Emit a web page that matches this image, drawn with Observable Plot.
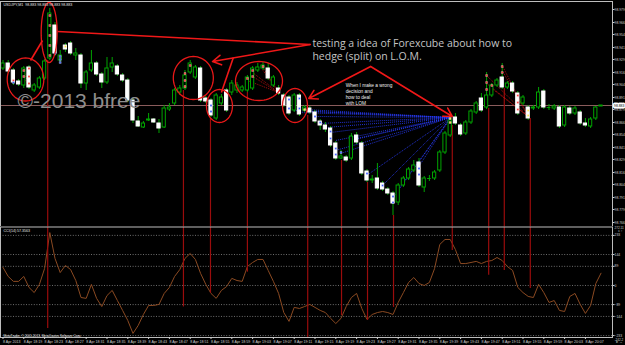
<!DOCTYPE html>
<html><head><meta charset="utf-8">
<script src="https://cdn.jsdelivr.net/npm/d3@7"></script>
<script src="https://cdn.jsdelivr.net/npm/@observablehq/plot@0.6"></script>
<style>
html,body{margin:0;padding:0;background:#000;}
#wrap{position:relative;width:625px;height:345px;background:#000;overflow:hidden;}
#wrap svg{position:absolute;left:0;}
</style></head><body><div id="wrap"></div>
<script>
// ---------- data ----------
const open = [98.920,98.925,98.918,98.907,98.903,98.921,98.898,98.901,98.910,98.930,
98.963,98.928,98.943,98.945,98.933,98.933,98.905,98.918,98.925,98.914,
98.906,98.921,98.922,98.913,98.908,98.888,98.867,98.861,98.868,98.869,
98.865,98.861,98.879,98.885,98.896,98.900,98.916,98.911,98.920,98.890,
98.888,98.870,98.885,98.898,98.896,98.898,98.898,98.898,98.900,98.918,
98.920,98.920,98.903,98.900,98.893,98.891,98.878,98.893,98.878,98.880,
98.876,98.867,98.863,98.860,98.845,98.830,98.831,98.830,98.853,98.845,
98.817,98.808,98.810,98.805,98.799,98.795,98.786,98.803,98.810,98.818,
98.826,98.801,98.810,98.810,98.818,98.836,98.853,98.871,98.863,98.855,
98.866,98.876,98.890,98.881,98.893,98.903,98.911,98.901,98.905,98.895,
98.885,98.881,98.880,98.881,98.897,98.881,98.880,98.881,98.863,98.880,
98.875,98.876,98.865,98.862,98.870,98.882];
const high = [98.928,98.928,98.920,98.909,98.922,98.923,98.905,98.912,98.929,98.980,
98.966,98.938,98.945,98.947,98.940,98.935,98.918,98.938,98.927,98.916,
98.931,98.931,98.924,98.915,98.910,98.890,98.872,98.867,98.875,98.870,
98.869,98.883,98.885,98.900,98.903,98.918,98.928,98.923,98.922,98.892,
98.890,98.895,98.894,98.900,98.908,98.906,98.903,98.913,98.922,98.925,
98.926,98.925,98.913,98.903,98.895,98.893,98.895,98.895,98.883,98.882,
98.878,98.869,98.866,98.862,98.847,98.838,98.833,98.855,98.856,98.847,
98.819,98.813,98.825,98.807,98.801,98.797,98.805,98.812,98.821,98.828,
98.830,98.812,98.813,98.818,98.838,98.857,98.871,98.875,98.865,98.868,
98.879,98.887,98.895,98.916,98.905,98.910,98.925,98.907,98.907,98.897,
98.893,98.883,98.883,98.901,98.899,98.884,98.884,98.883,98.883,98.882,
98.882,98.878,98.870,98.871,98.882,98.883];
const low = [98.918,98.915,98.903,98.902,98.900,98.899,98.896,98.899,98.908,98.928,
98.932,98.925,98.936,98.933,98.928,98.900,98.898,98.916,98.912,98.900,
98.904,98.916,98.912,98.906,98.886,98.865,98.861,98.860,98.867,98.865,
98.855,98.860,98.877,98.883,98.893,98.898,98.914,98.909,98.886,98.885,
98.871,98.868,98.883,98.876,98.893,98.895,98.896,98.896,98.898,98.916,
98.918,98.908,98.901,98.893,98.881,98.873,98.876,98.872,98.876,98.874,
98.865,98.858,98.856,98.841,98.828,98.829,98.826,98.828,98.844,98.813,
98.806,98.805,98.798,98.797,98.793,98.773,98.783,98.801,98.808,98.816,
98.801,98.796,98.807,98.808,98.816,98.834,98.851,98.863,98.852,98.853,
98.864,98.874,98.876,98.879,98.891,98.901,98.899,98.899,98.895,98.873,
98.883,98.868,98.878,98.879,98.879,98.878,98.878,98.860,98.861,98.873,
98.873,98.863,98.861,98.860,98.868,98.882];
const close = [98.925,98.917,98.906,98.904,98.920,98.901,98.903,98.910,98.927,98.975,
98.935,98.933,98.939,98.935,98.935,98.905,98.916,98.925,98.914,98.906,
98.920,98.925,98.914,98.908,98.888,98.868,98.862,98.865,98.869,98.866,
98.860,98.880,98.881,98.898,98.900,98.913,98.925,98.921,98.888,98.887,
98.873,98.893,98.891,98.878,98.905,98.903,98.901,98.911,98.920,98.921,
98.923,98.910,98.911,98.895,98.883,98.875,98.893,98.874,98.881,98.876,
98.867,98.863,98.859,98.843,98.830,98.832,98.828,98.852,98.846,98.815,
98.808,98.809,98.800,98.799,98.795,98.785,98.803,98.810,98.819,98.823,
98.803,98.810,98.810,98.816,98.836,98.855,98.868,98.865,98.854,98.866,
98.877,98.885,98.878,98.893,98.903,98.908,98.901,98.905,98.897,98.875,
98.891,98.870,98.881,98.896,98.881,98.881,98.882,98.862,98.881,98.875,
98.880,98.865,98.863,98.869,98.881,98.883];
const cci = [84,42,19,19,42,-9,-33,5,79,246,
126,60,93,74,23,-56,-60,5,-60,-98,
-47,-23,-70,-116,-163,-223,-186,-135,-93,-93,
-88,-37,-9,42,74,126,149,121,56,5,
-37,-60,-23,-5,33,23,19,88,107,121,
121,70,19,-37,-126,-167,-102,-107,-98,-88,
-102,-116,-126,-153,-177,-153,-98,-56,-37,-107,
-158,-135,-126,-121,-126,-135,-79,-33,14,37,
9,0,14,79,191,214,214,167,102,102,
107,112,102,112,116,130,116,88,70,-9,
-33,-51,-56,5,-33,-79,-70,-116,-121,-51,
-37,-88,-130,-93,9,57];
const currentPrice = 98.883;
const priceTicks = [98.979,98.966,98.954,98.941,98.929,98.916,98.904,98.891,98.879,98.866,98.854,98.841,98.829,98.816,98.804,98.791,98.779,98.766];
const timeTicks = [0,4,8,12,16,20,24,28,32,36,40,44,48,52,56,60,64,68,72,76,80,84,88,92,96,100,104,108,112];
const timeLabels = ["8 Apr 2013","8 Apr 18:19","8 Apr 18:23","8 Apr 18:27","8 Apr 18:31","8 Apr 18:35","8 Apr 18:39","8 Apr 18:43","8 Apr 18:47","8 Apr 18:51","8 Apr 18:55","8 Apr 18:59","8 Apr 19:03","8 Apr 19:07","8 Apr 19:11","8 Apr 19:15","8 Apr 19:19","8 Apr 19:23","8 Apr 19:27","8 Apr 19:31","8 Apr 19:35","8 Apr 19:39","8 Apr 19:43","8 Apr 19:47","8 Apr 19:51","8 Apr 19:55","8 Apr 19:59","8 Apr 20:03","8 Apr 20:07"];
const cciLevels = [233,144,89,0,-89,-144,-233];
const cciMaxLabel = "272.11", cciMinLabel = "-242.2";
// vertical LOM lines: bar, start price (upper panel), end CCI (lower panel)
const lomBars = [8.6,34.7,39.9,47.0,58.6,65.1,70.1,75.1,86.4,93.4,96.4,101.4];
const lomPrices = [98.928,98.898,98.870,98.896,98.873,98.828,98.806,98.773,98.863,98.880,98.900,98.870];
const lomCci = [-200,-100,-37,62,-242,-140,-163,-102,163,47,70,-14];
// blue dotted fan
const fanOriginBar = 86.1, fanOriginPrice = 98.871;
const fanBars = [55.87,56.83,57.98,58.94,59.90,60.87,62.02,62.98,63.94,63.94,64.90,66.83,67.98,69.90,72.79,74.90,75.87,79.71];
const fanPrices = [98.878,98.876,98.879,98.877,98.872,98.865,98.861,98.856,98.848,98.838,98.835,98.848,98.850,98.813,98.802,98.790,98.798,98.820];
// red dotted fans
const redFanFromBar = [47,48,48,50,50,93,93,96,96,94,4,4];
const redFanFromPrice = [98.908,98.916,98.912,98.921,98.918,98.913,98.905,98.923,98.918,98.900,98.918,98.910];
const redFanToBar = [53,53,53,53,53,101,101,101,101,101,5,5];
const redFanToPrice = [98.896,98.896,98.896,98.896,98.896,98.872,98.872,98.872,98.872,98.872,98.903,98.903];
// order markers
const markerBars = [2,4,4,5,5,5,9,9,9,9,9,35,35,35,36,47,48,48,50,93,93,93,94,96,96,99,99,99,
  2,10,11,11,11,40,40,55,55,57,57,60,61,63,63,64,64,65,70,73,75,75,80,80,
  12,58,86,86,101,101];
const markerPrices = [98.908,98.918,98.912,98.920,98.912,98.905,98.973,98.963,98.953,98.943,98.933,98.915,98.908,98.902,98.923,98.910,98.918,98.912,98.922,98.913,98.906,98.899,98.903,98.922,98.916,98.893,98.886,98.879,
  98.906,98.935,98.932,98.929,98.926,98.883,98.877,98.889,98.880,98.890,98.880,98.872,98.866,98.857,98.850,98.840,98.834,98.836,98.815,98.803,98.792,98.786,98.820,98.814,
  98.942,98.879,98.870,98.866,98.878,98.873];
const markerKinds = ["r","r","r","r","r","r","r","r","r","r","r","r","r","r","r","r","r","r","r","r","r","r","r","r","r","r","r","r",
  "b","b","b","b","b","b","b","b","b","b","b","b","b","b","b","b","b","b","b","b","b","b","b","b",
  "y","y","y","y","y","y"];
// ellipses (center bar, center price, radius in bars, radius in price)
const ellipseBar = [4.33,8.88,36.6,41.63,49.23,56.15];
const ellipsePrice = [98.909,98.956,98.9105,98.8825,98.9075,98.883];
const ellipseRx = [3.52,1.54,3.85,2.5,4.52,2.4];
const ellipseRy = [0.0215,0.030,0.0215,0.0165,0.0195,0.017];
// annotation lines & arrows
const lineX1 = [59.1,44.3,7.6], lineY1 = [98.944,98.931,98.948];
const lineX2 = [10.5,42.0,5.3], lineY2 = [98.957,98.896,98.928];
const arrowX1 = [59.1,70.7,70.7], arrowY1 = [98.944,98.922,98.922];
const arrowX2 = [40.3,58.8,86.4], arrowY2 = [98.927,98.890,98.872];
// texts
const chartTitle = "USDJPY,M1  98.883 98.883 98.883 98.883";
const cciTitle = "CCI(14) 57.3563";
const copyright = "MetaTrader, © 2001-2013, MetaQuotes Software Corp.";
const watermark = "©-2013 bfree";
const noteLines = ["testing a idea of Forexcube about how to","hedge (split) on L.O.M."];
const notePrices = [98.945,98.9318];
const smallLines = ["When I make a wrong","decision and","how to deal","with LOM"];
const smallPrices = [98.9035,98.8975,98.8915,98.8855];

// ---------- build ----------
const green = "#00a400";
const bars = open.map((o,i)=>({i,o,h:high[i],l:low[i],c:close[i]}));
const bodies = bars.filter(d=>d.o!==d.c);
const dojis = bars.filter(d=>d.o===d.c);
const lom = lomBars.map((b,k)=>({b,p:lomPrices[k],c:lomCci[k]}));
const fan = fanBars.map((b,k)=>({b,p:fanPrices[k]}));
const redFan = redFanFromBar.map((b,k)=>({x1:b,y1:redFanFromPrice[k],x2:redFanToBar[k],y2:redFanToPrice[k]}));
const markerColor = {r:"#ff3030",b:"#3a55ff",y:"#ffe040"};
const markers = markerBars.map((b,k)=>({b,p:markerPrices[k],col:markerColor[markerKinds[k]]}));
const ellipsePts = ellipseBar.flatMap((b,k)=>d3.range(0,61).map(j=>{const t=j/60*2*Math.PI;return {k,x:b+ellipseRx[k]*Math.cos(t),y:ellipsePrice[k]+ellipseRy[k]*Math.sin(t)};}));
const lines = lineX1.map((x,k)=>({x1:x,y1:lineY1[k],x2:lineX2[k],y2:lineY2[k]}));
const arrows = arrowX1.map((x,k)=>({x1:x,y1:arrowY1[k],x2:arrowX2[k],y2:arrowY2[k]}));
const pMin = 98.762, pMax = 98.987;

const main = Plot.plot({
  width:625, height:227, marginLeft:0, marginRight:13, marginTop:1, marginBottom:1,
  style:{background:"#000", color:"#ddd", fontFamily:"Liberation Sans, sans-serif", overflow:"visible"},
  x:{domain:[-0.48,117.21], axis:null},
  y:{domain:[pMin,pMax], axis:null},
  marks:[
    Plot.ruleY([currentPrice], {stroke:"#8a5c5c", strokeWidth:1}),
    Plot.ruleX(lom, {x:"b", y1:"p", y2:()=>pMin, stroke:"#9a0c0c", strokeWidth:1.2}),
    Plot.link(fan, {x1:()=>fanOriginBar, y1:()=>fanOriginPrice, x2:"b", y2:"p", stroke:"#2a3cff", strokeWidth:0.8, strokeDasharray:"1,1"}),
    Plot.link(redFan, {x1:"x1", y1:"y1", x2:"x2", y2:"y2", stroke:"#d01010", strokeWidth:0.8, strokeDasharray:"1,1"}),
    Plot.ruleX(bars, {x:"i", y1:"l", y2:"h", stroke:green, strokeWidth:1}),
    Plot.rect(bodies, {x1:d=>d.i-0.31, x2:d=>d.i+0.31, y1:"o", y2:"c",
      fill:d=>d.c<d.o?"#ffffff":"#000000", stroke:d=>d.c<d.o?"#ffffff":green, strokeWidth:1}),
    Plot.ruleY(dojis, {x1:d=>d.i-0.35, x2:d=>d.i+0.35, y:"c", stroke:green, strokeWidth:1}),
    Plot.dot(markers, {x:"b", y:"p", fill:"col", symbol:"square", r:1.1, stroke:"#ffffff", strokeWidth:0.3}),
    Plot.line(ellipsePts, {x:"x", y:"y", z:"k", stroke:"#e81818", strokeWidth:1.3}),
    Plot.link(lines, {x1:"x1", y1:"y1", x2:"x2", y2:"y2", stroke:"#f01818", strokeWidth:1.6}),
    Plot.arrow(arrows, {x1:"x1", y1:"y1", x2:"x2", y2:"y2", stroke:"#f01818", strokeWidth:1.6, headLength:9}),
    Plot.frame({stroke:"#bdbdbd", strokeWidth:1}),
    Plot.axisY(priceTicks, {anchor:"right", tickSize:1.5, tickPadding:0.5, fontSize:3.4, tickFormat:d3.format(".3f"), color:"#d0d0d0"}),
    Plot.text([currentPrice], {y:d=>d, frameAnchor:"right", dx:1.5, textAnchor:"start", text:d=>d3.format(".3f")(d), fontSize:3.4, fill:"#000", stroke:"#fff", strokeWidth:3, paintOrder:"stroke"}),
    Plot.text([chartTitle], {frameAnchor:"top-left", dx:3, dy:2, textAnchor:"start", lineAnchor:"top", fontSize:3.6, fill:"#e8e8e8"}),
    Plot.text([{t:watermark}], {x:()=>2.8, y:()=>98.8875, text:"t", textAnchor:"start", fontSize:21, fill:"#8e8e8e", ariaLabel:"watermark"}),
    Plot.text(noteLines, {x:()=>59.5, y:(d,k)=>notePrices[k], text:d=>d, textAnchor:"start", fontSize:10.5, fontFamily:"Open Sans", fill:"#c4c4c4", ariaLabel:"note"}),
    Plot.text(smallLines, {x:()=>65.9, y:(d,k)=>smallPrices[k], text:d=>d, textAnchor:"start", fontSize:4.8, fill:"#f0f0f0"})
  ]
});

const lower = Plot.plot({
  width:625, height:119, marginLeft:0, marginRight:13, marginTop:0.5, marginBottom:8,
  style:{background:"#000", color:"#ddd", fontFamily:"Liberation Sans, sans-serif", overflow:"visible"},
  x:{domain:[-0.48,117.21], axis:null},
  y:{domain:[-242,272], axis:null},
  marks:[
    Plot.ruleY(cciLevels, {stroke:"#8a8a8a", strokeWidth:0.8, strokeDasharray:"1,1.6"}),
    Plot.line(cci, {x:(d,i)=>i, y:d=>d, stroke:"#8b4a22", strokeWidth:1}),
    Plot.ruleX(lom, {x:"b", y1:()=>272, y2:"c", stroke:"#9a0c0c", strokeWidth:1.2}),
    Plot.frame({stroke:"#bdbdbd", strokeWidth:1}),
    Plot.axisY(cciLevels, {anchor:"right", tickSize:1.5, tickPadding:0.5, fontSize:3.4, color:"#d0d0d0"}),
    Plot.text([cciMaxLabel], {frameAnchor:"top-right", dx:2, dy:0, textAnchor:"start", lineAnchor:"top", fontSize:3.1, fill:"#d0d0d0"}),
    Plot.text([cciMinLabel], {frameAnchor:"bottom-right", dx:2, dy:1.5, textAnchor:"start", lineAnchor:"top", fontSize:3.1, fill:"#d0d0d0"}),
    Plot.text([cciTitle], {frameAnchor:"top-left", dx:3, dy:2, textAnchor:"start", lineAnchor:"top", fontSize:3.6, fill:"#e8e8e8"}),
    Plot.text([copyright], {frameAnchor:"bottom-left", dx:3, dy:-1, textAnchor:"start", lineAnchor:"bottom", fontSize:3.2, fill:"#e8e8e8"}),
    Plot.axisX(timeTicks, {anchor:"bottom", tickFormat:d=>timeLabels[d/4], textAnchor:"start", tickSize:2, tickPadding:1, fontSize:3.6, color:"#d0d0d0"})
  ]
});

main.style.top = "0px";
lower.style.top = "226px";
const wrap = document.getElementById("wrap");
wrap.appendChild(main);
wrap.appendChild(lower);

function fit(svg, label, widths){
  d3.select(svg).selectAll(`g[aria-label="${label}"] text`).each(function(_,k){
    if (widths[k]) { this.setAttribute("textLength", widths[k]); this.setAttribute("lengthAdjust","spacingAndGlyphs"); }
  });
}
fit(main, "watermark", [111]);
fit(main, "note", [188,103]);
</script></body></html>
